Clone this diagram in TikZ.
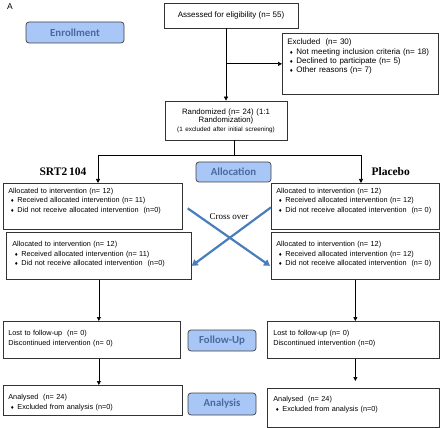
\documentclass[tikz,border=0pt]{standalone}
\usepackage{fontspec}
\setmainfont{Liberation Sans}
\newfontfamily\calibri{Carlito}
\newfontfamily\cambria{Liberation Serif}
\newfontfamily\symfont{DejaVu Sans}
\usepackage{xcolor}
\usetikzlibrary{arrows.meta}
\definecolor{stagefill}{RGB}{168,198,246}
\definecolor{stagetext}{RGB}{74,106,158}
\definecolor{crossblue}{RGB}{74,126,187}
\newcommand{\dia}{{\symfont\fontsize{4.5}{4.5}\selectfont ♦}}
\newcommand{\bul}{\hspace*{2pt}\dia\hspace{3pt}}
\tikzset{
  frame/.style={draw=black!80, line width=0.7pt},
  box/.style={frame, anchor=north west, align=left, inner xsep=5pt, inner ysep=4pt, font=\fontsize{7.3}{9.5}\selectfont},
  stage/.style={draw=black!75, line width=0.7pt, rounded corners=3pt, fill=stagefill, text=stagetext, font=\calibri\bfseries\fontsize{10.8}{12}\selectfont, inner sep=0pt},
  arm/.style={font=\cambria\bfseries\fontsize{11.5}{13}\selectfont},
  arr/.style={-{Triangle[length=4pt,width=4pt]}, line width=0.7pt},
  cross/.style={-{Triangle[length=6pt,width=7pt]}, line width=2.2pt, draw=crossblue}
}
\begin{document}
\begin{tikzpicture}[x=1pt,y=-1pt]
            \useasboundingbox (0,0) rectangle (440,428);
            \node[font=\fontsize{8.5}{10}\selectfont] (panel) at (10,7) {A};

            % Stages
            \node[stage, minimum width=98pt, minimum height=21pt] (enroll) at (75,32.5) {Enrollment};
            \node[stage, minimum width=75pt, minimum height=20pt] (allocation) at (233.5,172) {Allocation};
            \node[stage, minimum width=68pt, minimum height=21pt] (followup) at (222,340.5) {Follow-Up};
            \node[stage, minimum width=68pt, minimum height=22pt] (analysis) at (222,404) {Analysis};

            % Enrollment
            \node[frame, minimum width=134pt, minimum height=25pt, font=\fontsize{8}{9.5}\selectfont] (assess) at (231,15.5) {Assessed for eligibility (n= 55)};
            \node[box, font=\fontsize{8}{9.3}\selectfont, text width=146pt, text height=7.6pt, text depth=45.4pt] (excl) at (282,33) {Excluded~~(n= 30)\\\bul Not meeting inclusion criteria (n= 18)\\\bul Declined to participate (n= 5)\\\bul Other reasons (n= 7)};
            \node[frame, align=center, text width=114pt, minimum height=39pt, inner xsep=4pt, font=\fontsize{7.8}{8.6}\selectfont] (rand) at (226,120.5) {Randomized (n= 24) (1:1\\Randomization)\\{\fontsize{6.3}{8}\selectfont (1 excluded after initial screening)}};

            % Arms
            \node[arm, anchor=east] (armL) at (90,172) {SRT2\,104};
            \node[arm, anchor=west] (armR) at (368,172) {Placebo};
            \node[box, text width=169pt, text height=6.1pt, text depth=31.9pt] (allocL) at (3,183) {Allocated to intervention (n= 12)\\\bul Received allocated intervention (n= 11)\\\bul Did not receive allocated intervention~~(n=0)};
            \node[box, text width=158pt, text height=6.1pt, text depth=31.9pt] (allocR) at (271,183) {Allocated to intervention (n= 12)\\\bul Received allocated intervention (n= 12)\\\bul Did not receive allocated intervention~~(n= 0)};
            \node[box, inner xsep=6pt, text width=173pt, text height=10.6pt, text depth=28.4pt] (swapL) at (6,232) {Allocated to intervention (n= 12)\\\bul Received allocated intervention (n= 11)\\\bul Did not receive allocated intervention~~(n=0)};
            \node[box, text width=158pt, text height=10.6pt, text depth=28.4pt] (swapR) at (271,232) {Allocated to intervention (n= 12)\\\bul Received allocated intervention (n= 12)\\\bul Did not receive allocated intervention~~(n= 0)};
            \node[font=\cambria\fontsize{9}{10}\selectfont] (crosslbl) at (229,217) {Cross over};

            % Follow-up and analysis
            \node[box, text width=167pt, text height=10.6pt, text depth=18.4pt] (fuL) at (3,321) {Lost to follow-up~~(n= 0)\\Discontinued intervention (n= 0)};
            \node[box, inner xsep=6pt, text width=160pt, text height=10.6pt, text depth=18.4pt] (fuR) at (267,321) {Lost to follow-up (n= 0)\\Discontinued intervention (n=0)};
            \node[box, text width=169pt, text height=10.6pt, text depth=11.4pt] (anL) at (3,385) {Analysed~~(n= 24)\\\bul Excluded from analysis (n=0)};
            \node[box, inner xsep=6pt, text width=160pt, text height=9.6pt, text depth=21.4pt] (anR) at (267,388) {Analysed~~(n= 24)\\\bul Excluded from analysis (n=0)};

            % Connectors
            \coordinate (split) at (234,155);
            \coordinate (splitL) at (98,155);
            \coordinate (splitR) at (361,155);
            \draw[arr] (assess.south -| rand.north) -- (rand.north);
            \draw[arr] (rand.north |- excl.west) -- (excl.west);
            \draw[line width=0.7pt] (rand.south -| split) -- (split);
            \draw[line width=0.7pt] (splitL) -- (splitR);
            \draw[arr] (splitL) -- (splitL |- allocL.north);
            \draw[arr] (splitR) -- (splitR |- allocR.north);
            \draw[cross] ([shift={(5,2)}]allocL.east) -- ([shift={(-1,10)}]swapR.west);
            \draw[cross] ([shift={(0,1)}]allocR.west) -- ([shift={(0,10)}]swapL.east);
            \draw[arr] (swapL.south) -- (swapL.south |- fuL.north);
            \draw[arr] (swapR.south) -- (swapR.south |- fuR.north);
            \draw[arr] (swapL.south |- fuL.south) -- (swapL.south |- anL.north);
            \draw[arr, shorten >=7pt] (swapR.south |- fuR.south) -- (swapR.south |- anR.north);
        \end{tikzpicture}
\end{document}
